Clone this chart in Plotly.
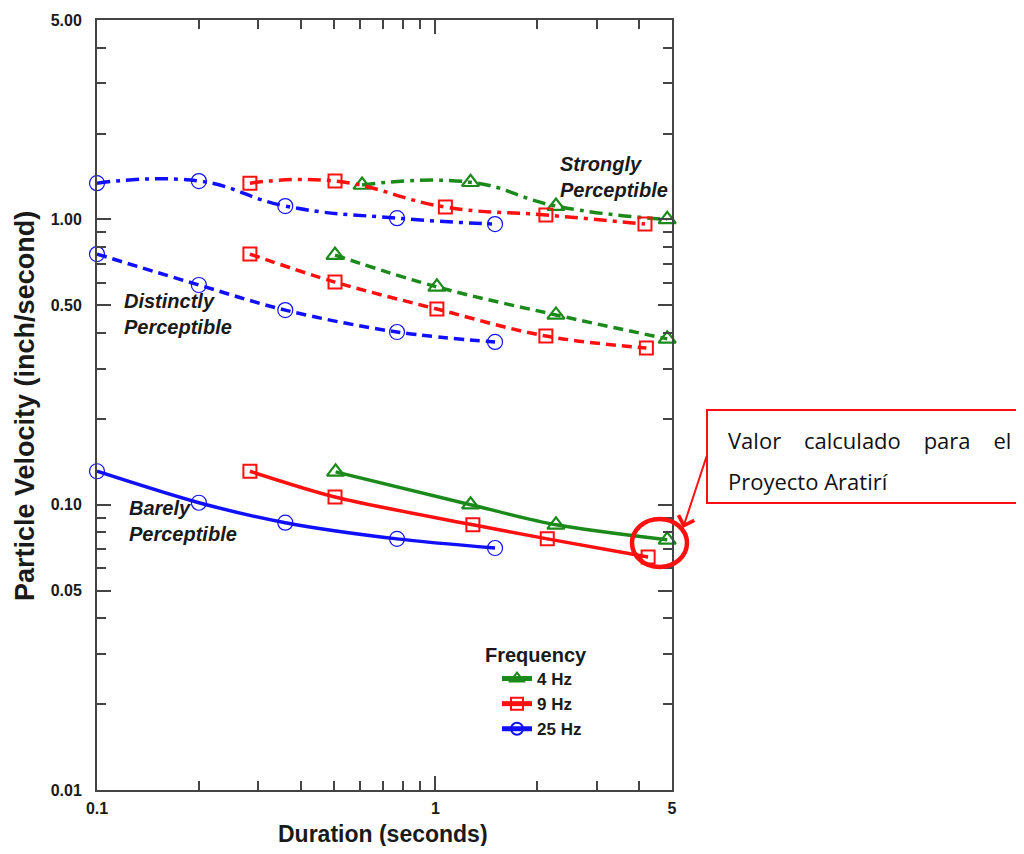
import plotly.graph_objects as go

# ---------------- data ----------------
dur_25 = [0.1, 0.2, 0.36, 0.77, 1.5]
dur_9_strong = [0.283, 0.505, 1.07, 2.12, 4.16]
dur_9_dist = [0.283, 0.505, 1.01, 2.12, 4.2]
dur_9_barely = [0.283, 0.505, 1.29, 2.14, 4.25]
dur_4_strong = [0.607, 1.27, 2.27, 4.84]
dur_4_dist = [0.505, 1.01, 2.27, 4.84]
dur_4_barely = [0.507, 1.27, 2.27, 4.84]

v25_strong = [1.34, 1.363, 1.114, 1.01, 0.963]
v25_dist = [0.756, 0.589, 0.481, 0.403, 0.372]
v25_barely = [0.131, 0.1016, 0.0865, 0.0759, 0.0705]
v9_strong = [1.34, 1.363, 1.105, 1.036, 0.963]
v9_dist = [0.756, 0.603, 0.485, 0.390, 0.354]
v9_barely = [0.131, 0.1064, 0.085, 0.0759, 0.0656]
v4_strong = [1.32, 1.35, 1.114, 1.0]
v4_dist = [0.75, 0.58, 0.4625, 0.3814]
v4_barely = [0.1303, 0.1, 0.085, 0.0753]

legend_names = ["4 Hz", "9 Hz", "25 Hz"]
y_tickvals = [0.01, 0.05, 0.1, 0.5, 1, 5]
y_ticktext = ["0.01", "0.05", "0.10", "0.50", "1.00", "5.00"]
y_minor = [0.02, 0.03, 0.04, 0.06, 0.07, 0.08, 0.09, 0.2, 0.3, 0.4, 0.6, 0.7, 0.8, 0.9, 2, 3, 4]
x_tickvals = [0.1, 1, 5]
x_ticktext = ["0.1", "1", "5"]
x_minor = [0.2, 0.3, 0.4, 0.5, 0.6, 0.7, 0.8, 0.9, 2, 3, 4]

GREEN = "#1b8a1b"
RED = "#ff1010"
BLUE = "#1010ff"
FONT = "Liberation Sans, Arial, sans-serif"

# page has an 8px body margin -> figure drawn 8px in from the window corner
OFF = 8
W, H = 1024 - 2 * OFF, 854 - 2 * OFF
# plot area in reference (window) pixels
L, R, T, B = 97, 672, 20, 790


def px(xp):
    return (xp - L) / (R - L)


def py(yp):
    return (B - yp) / (B - T)


DASHDOT = "13px,6px,4px,6px"
DASH = "10px,6px"

styles = {
    "4": dict(color=GREEN, symbol="triangle-up-open", size=15, mlw=2.2),
    "9": dict(color=RED, symbol="square-open", size=13, mlw=2.0),
    "25": dict(color=BLUE, symbol="circle-open", size=15, mlw=1.2),
}

fig = go.Figure()


def add(x, y, key, dash, name=None, show=False, smooth=1.0, lw=3.5):
    s = styles[key]
    fig.add_trace(go.Scatter(
        x=x, y=y, mode="lines+markers",
        name=name if name else key + " Hz",
        showlegend=show,
        line=dict(color=s["color"], width=lw, dash=dash, shape="spline", smoothing=smooth),
        marker=dict(symbol=s["symbol"], size=s["size"], color=s["color"],
                    line=dict(width=s["mlw"], color=s["color"])),
        cliponaxis=False,
    ))


# barely (solid) - these appear in legend
add(dur_4_barely, v4_barely, "4", "solid", "<b>" + legend_names[0] + "</b>", True, 0.8)
add(dur_9_barely, v9_barely, "9", "solid", "<b>" + legend_names[1] + "</b>", True, 0.8)
add(dur_25, v25_barely, "25", "solid", "<b>" + legend_names[2] + "</b>", True, 0.8)
# distinctly (dash)
add(dur_4_dist, v4_dist, "4", DASH, smooth=1.0)
add(dur_9_dist, v9_dist, "9", DASH, smooth=1.0)
add(dur_25, v25_dist, "25", DASH, smooth=1.0)
# strongly (dash-dot)
add(dur_4_strong, v4_strong, "4", DASHDOT, smooth=1.3)
add(dur_9_strong, v9_strong, "9", DASHDOT, smooth=1.3)
add(dur_25, v25_strong, "25", DASHDOT, smooth=1.3)

axis_common = dict(
    type="log", showgrid=False, zeroline=False, automargin=False,
    showline=True, linecolor="#444", linewidth=2, mirror="ticks",
    ticks="inside", ticklen=14, tickwidth=1.5, tickcolor="#444",
    tickfont=dict(family=FONT, size=16, color="#1a1a1a", weight="bold"),
)

fig.update_xaxes(
    **axis_common,
    range=[-1, 0.69897],
    tickvals=x_tickvals, ticktext=x_ticktext,
    minor=dict(tickvals=x_minor, ticks="inside", ticklen=9, tickwidth=1.5, tickcolor="#444"),
    ticklabelstandoff=3,
)
fig.update_yaxes(
    **axis_common,
    range=[-2, 0.69897],
    tickvals=y_tickvals, ticktext=y_ticktext,
    minor=dict(tickvals=y_minor, ticks="inside", ticklen=9, tickwidth=1.5, tickcolor="#444"),
    ticklabelstandoff=10,
)

annos = []
# axis titles
annos.append(dict(xref="paper", yref="paper", x=px(383), y=py(834), text="<b>Duration (seconds)</b>",
                  showarrow=False, xanchor="center", yanchor="middle",
                  font=dict(family=FONT, size=23, color="#1a1a1a")))
annos.append(dict(xref="paper", yref="paper", x=px(25), y=py(406), text="<b>Particle Velocity (inch/second)</b>",
                  showarrow=False, xanchor="center", yanchor="middle", textangle=-90,
                  font=dict(family=FONT, size=27, color="#1a1a1a")))
# region labels
for txt, xl, yt in [("Strongly<br>Perceptible", 558, 151),
                    ("Distinctly<br>Perceptible", 122, 288),
                    ("Barely<br>Perceptible", 127, 495)]:
    annos.append(dict(xref="paper", yref="paper", x=px(xl), y=py(yt),
                      text="<b><i>" + txt + "</i></b>", showarrow=False,
                      xanchor="left", yanchor="top", align="left",
                      font=dict(family=FONT, size=20, color="#1a1a1a")))
# legend title
annos.append(dict(xref="paper", yref="paper", x=px(483), y=py(655), text="<b>Frequency</b>",
                  showarrow=False, xanchor="left", yanchor="middle",
                  font=dict(family=FONT, size=20, color="#1a1a1a")))
# callout text
NB = "\u00a0"
CFONT = dict(family="Open Sans, Noto Sans, sans-serif", size=22, color="#111")
annos.append(dict(xref="paper", yref="paper", x=px(726), y=py(440),
                  text="Valor" + NB * 4 + "calculado" + NB * 4 + "para" + NB * 4 + "el",
                  showarrow=False, xanchor="left", yanchor="middle", font=CFONT))
annos.append(dict(xref="paper", yref="paper", x=px(726), y=py(481),
                  text="Proyecto Aratirí",
                  showarrow=False, xanchor="left", yanchor="middle", font=CFONT))
# arrow
annos.append(dict(xref="paper", yref="paper", x=px(683), y=py(528), text="",
                  showarrow=True, ax=24, ay=-73, arrowhead=4, arrowsize=1.6,
                  arrowwidth=2, arrowcolor=RED))

shapes = [
    dict(type="rect", xref="paper", yref="paper", x0=px(707), x1=px(1030), y0=py(503), y1=py(410),
         line=dict(color=RED, width=2), fillcolor="rgba(0,0,0,0)"),
    dict(type="circle", xref="paper", yref="paper", x0=px(632), x1=px(687), y0=py(567), y1=py(519),
         line=dict(color=RED, width=4.5), fillcolor="rgba(0,0,0,0)"),
]

fig.update_layout(
    width=W, height=H,
    margin=dict(l=L - OFF, r=W - (R - OFF), t=T - OFF, b=H - (B - OFF), autoexpand=False),
    paper_bgcolor="white", plot_bgcolor="white",
    font=dict(family=FONT, color="#1a1a1a"),
    annotations=annos, shapes=shapes,
    legend=dict(
        x=px(497), y=py(661), xanchor="left", yanchor="top",
        bgcolor="rgba(0,0,0,0)",
        font=dict(family=FONT, size=17, color="#1a1a1a"),
        tracegroupgap=0, itemsizing="constant",
    ),
)

fig.write_html("out.html")
